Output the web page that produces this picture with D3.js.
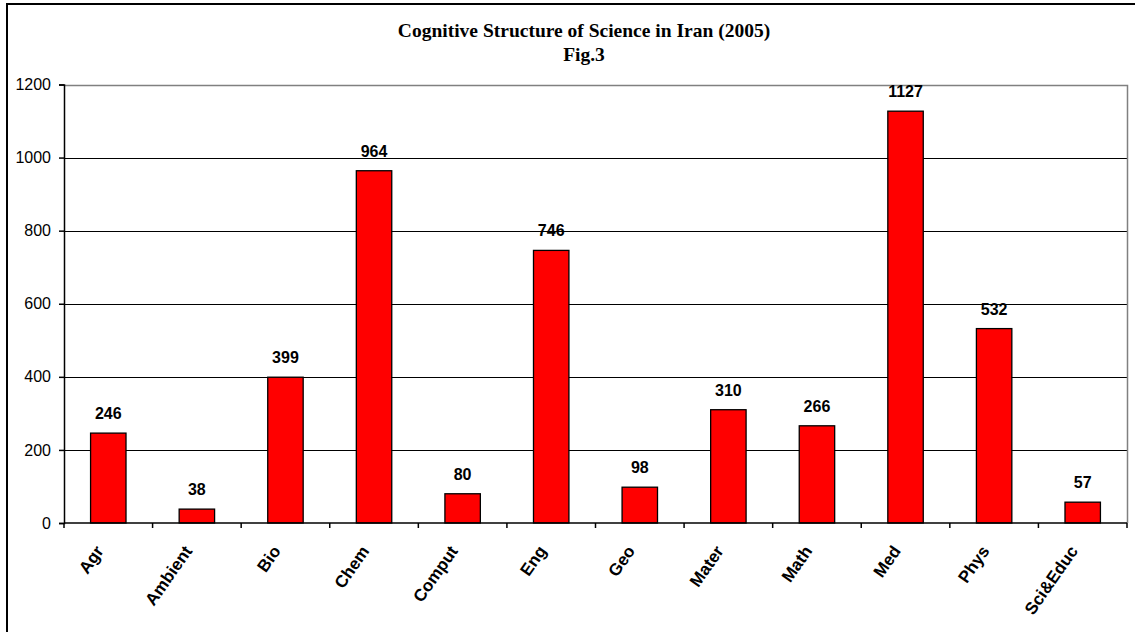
<!DOCTYPE html>
<html><head><meta charset="utf-8">
<script src="https://cdn.jsdelivr.net/npm/d3@7"></script>
<style>body{margin:0;background:#fff}svg{display:block}</style>
</head><body>
<svg id="c" width="1135" height="632"></svg>
<script>
const categories = ["Agr","Ambient","Bio","Chem","Comput","Eng","Geo","Mater","Math","Med","Phys","Sci&Educ"];
const values = [246,38,399,964,80,746,98,310,266,1127,532,57];
const yTicks = [0,200,400,600,800,1000,1200];
const titleLines = ["Cognitive Structure of Science in Iran (2005)","Fig.3"];

const svg = d3.select("#c");
const L = 64, R = 1127, T = 84.5, B = 523;
const x = d3.scaleBand().domain(categories).range([L,R]).paddingInner(0.6).paddingOuter(0.3);
const xb = d3.scaleBand().domain(categories).range([L,R]);
const y = d3.scaleLinear().domain([0,1200]).range([B,T]);

// outer frame
svg.append("rect").attr("x",7).attr("y",4).attr("width",1140).attr("height",640)
  .attr("fill","none").attr("stroke","#000").attr("stroke-width",2);

// gridlines
svg.append("g").selectAll("line").data(yTicks.filter(d=>d>0 && d<1200)).join("line")
  .attr("x1",L).attr("x2",R).attr("y1",d=>Math.round(y(d))+0.5).attr("y2",d=>Math.round(y(d))+0.5)
  .attr("stroke","#000").attr("stroke-width",1);
// plot border top/right
svg.append("path").attr("d",`M${L},${Math.round(T)+0.5}H${R+0.5}V${B}`).attr("fill","none").attr("stroke","#808080").attr("stroke-width",1.5);

// bars
svg.append("g").selectAll("rect").data(values).join("rect")
  .attr("x",(d,i)=>x(categories[i])).attr("width",x.bandwidth())
  .attr("y",d=>y(d)).attr("height",d=>B-y(d))
  .attr("fill","#ff0000").attr("stroke","#000").attr("stroke-width",1.3);

// value labels
svg.append("g").selectAll("text").data(values).join("text")
  .attr("x",(d,i)=>x(categories[i])+x.bandwidth()/2).attr("y",d=>y(d)-14)
  .attr("text-anchor","middle").attr("font-family","Liberation Sans, Arial, sans-serif")
  .attr("font-weight","bold").attr("font-size",16).text(d=>d);

// y axis
const ya = svg.append("g").attr("transform",`translate(${L},0)`)
  .call(d3.axisLeft(y).tickValues(yTicks).tickSize(5).tickPadding(8).tickFormat(d3.format("d")));
ya.select(".domain").attr("stroke","#000").attr("stroke-width",1.5);
ya.selectAll(".tick line").attr("stroke","#000").attr("stroke-width",1.5);
ya.selectAll("text").attr("font-family","Liberation Sans, Arial, sans-serif").attr("font-size",16).attr("fill","#000");

// x axis
const xa = svg.append("g").attr("transform",`translate(0,${B})`);
xa.append("line").attr("x1",L).attr("x2",R).attr("stroke","#000").attr("stroke-width",1.5);
xa.selectAll("line.t").data(categories.concat(["_end"])).join("line").attr("class","t")
  .attr("x1",(d,i)=> i<categories.length ? xb(d) : R).attr("x2",(d,i)=> i<categories.length ? xb(d) : R)
  .attr("y1",0).attr("y2",5).attr("stroke","#000").attr("stroke-width",1.5);
xa.selectAll("text").data(categories).join("text")
  .attr("transform",d=>`translate(${xb(d)+xb.bandwidth()/2-4},${28}) rotate(-55)`)
  .attr("text-anchor","end")
  .attr("font-family","Liberation Sans, Arial, sans-serif").attr("font-weight","bold").attr("font-size",17)
  .text(d=>d);

// title
svg.append("g").selectAll("text").data(titleLines).join("text")
  .attr("x",584).attr("y",(d,i)=> i===0 ? 37 : 61)
  .attr("text-anchor","middle").attr("font-family","Liberation Serif, Times New Roman, serif")
  .attr("font-weight","bold").attr("font-size",19.5).text(d=>d);
</script>
</body></html>
